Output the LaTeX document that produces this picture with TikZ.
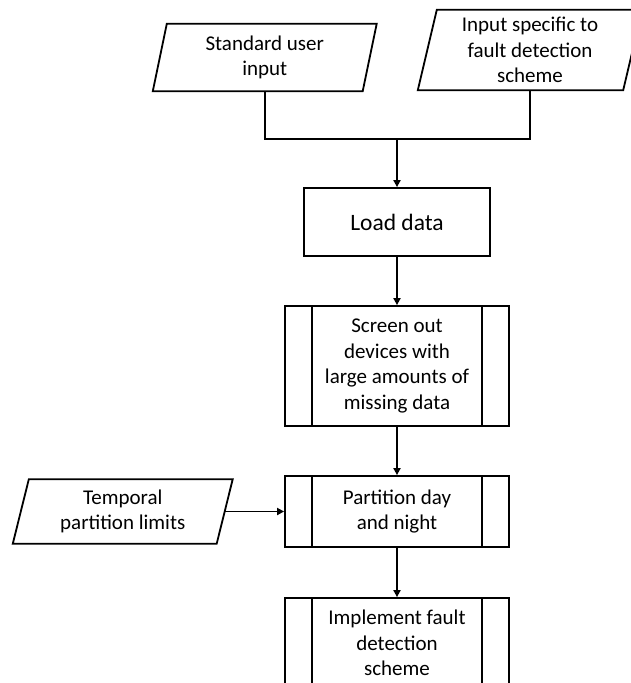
\documentclass[tikz,border=0pt]{standalone}
\usepackage{fontspec}
\setmainfont{Carlito}
\usetikzlibrary{arrows.meta}
\begin{document}
\begin{tikzpicture}[x=1pt,y=-1pt,
  txt/.style={font=\fontsize{21}{25.7}\selectfont, align=center, inner sep=0pt},
  border/.style={line width=1.8pt, line join=miter},
  proc/.style={txt, draw, border, minimum width=186pt, minimum height=68pt},
  subproc/.style={txt, draw, border, minimum width=224pt},
  io/.style={txt},
  link/.style={line width=1.8pt},
  flow/.style={line width=1.8pt, -{Triangle[length=7pt,width=7pt]}}
]
\clip (0,0) rectangle (631,683);
\fill[white] (0,0) rectangle (631,683);

% input parallelograms (text holders sized to the outline)
\node[io, minimum width=209.5pt, minimum height=67pt] (p1) at (264.75,57.5) {Standard user\\input};
\node[io, minimum width=205pt, minimum height=80pt] (p2) at (530,50) {Input specific to\\fault detection\\scheme};
\node[io, minimum width=203.5pt, minimum height=64pt] (tp) at (122.75,511.5) {Temporal\\partition limits};

\draw[border] ([xshift=7pt]p1.north west) -- ([xshift=7pt]p1.north east) -- ([xshift=-7pt]p1.south east) -- ([xshift=-7pt]p1.south west) -- cycle;
\draw[border] ([xshift=9.5pt]p2.north west) -- ([xshift=9.5pt]p2.north east) -- ([xshift=-9.5pt]p2.south east) -- ([xshift=-9.5pt]p2.south west) -- cycle;
\draw[border] ([xshift=8pt]tp.north west) -- ([xshift=8pt]tp.north east) -- ([xshift=-8pt]tp.south east) -- ([xshift=-8pt]tp.south west) -- cycle;

% process steps
\node[proc, font=\fontsize{23.5}{28}\selectfont] (load) at (397,222) {Load data};
\node[subproc, minimum height=120pt] (scr) at (397,366) {Screen out\\devices with\\large amounts of\\missing data};
\node[subproc, minimum height=71pt] (part) at (397,511.5) {Partition day\\and night};
\node[subproc, minimum height=90pt] (impl) at (397,643) {Implement fault\\detection\\scheme};

% side bars of the predefined-process boxes
\foreach \n in {scr,part,impl}
  \draw[border] ([xshift=28pt]\n.north west) -- ([xshift=28pt]\n.south west)
                ([xshift=-28pt]\n.north east) -- ([xshift=-28pt]\n.south east);

% connectors
\coordinate (join) at (397,139);
\draw[link] (p1.south) |- (join) -| (p2.south);
\draw[flow] (join) -- (load.north);
\draw[flow] (load) -- (scr);
\draw[flow] (scr) -- (part);
\draw[flow] (part) -- (impl);
\draw[flow] (tp.east) -- (part.west);
\end{tikzpicture}
\end{document}
